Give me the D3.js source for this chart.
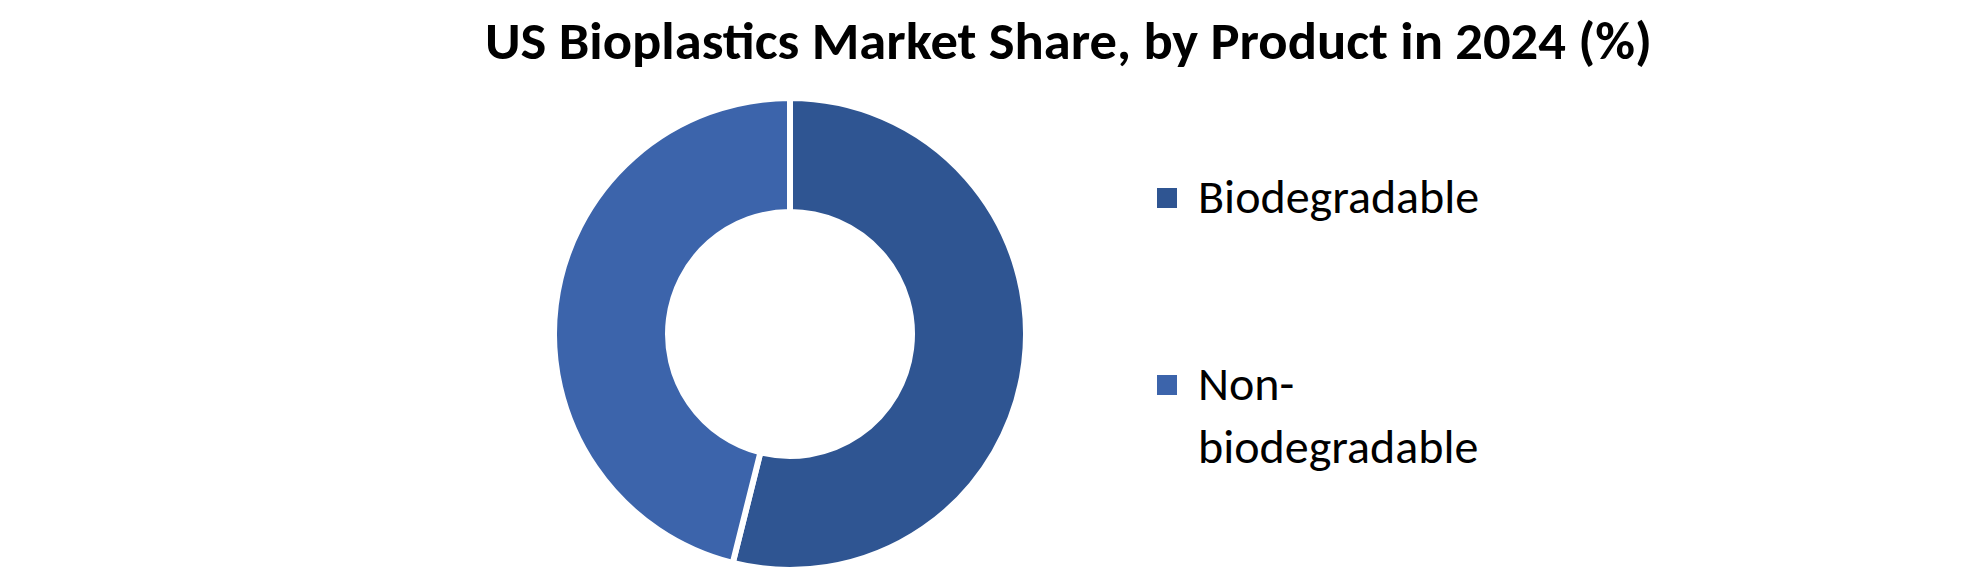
<!DOCTYPE html>
<html>
<head>
<meta charset="utf-8">
<script src="https://cdn.jsdelivr.net/npm/d3@7"></script>
<style>
  body { margin: 0; background: #fff; }
  svg { display: block; }
</style>
</head>
<body>
<div id="chart"></div>
<script>
// Chart data
var categories = ["Biodegradable", "Non-biodegradable"];
var legendLines = [["Biodegradable"], ["Non-", "biodegradable"]];
var shares = [53.9, 46.1];
var colors = ["#2f5592", "#3c64ab"];
var title = "US Bioplastics Market Share, by Product in 2024 (%)";

// SVG area
var svgWidth = 1980;
var svgHeight = 572;

var svg = d3.select("#chart")
  .append("svg")
  .attr("width", svgWidth)
  .attr("height", svgHeight);

// Title, stretched to the reference width
svg.append("text")
  .attr("x", 485)
  .attr("y", 59)
  .attr("font-family", "Carlito, Calibri, 'Open Sans', sans-serif")
  .attr("font-weight", "bold")
  .attr("font-size", 53)
  .attr("fill", "#000")
  .attr("textLength", 1167)
  .attr("lengthAdjust", "spacingAndGlyphs")
  .text(title);

// Donut
var cx = 790, cy = 334;
var pie = d3.pie().sort(null).value(d => d.value);
var arc = d3.arc().innerRadius(122).outerRadius(236);

var data = categories.map((c, i) => ({ name: c, value: shares[i] }));

var donut = svg.append("g")
  .attr("transform", `translate(${cx}, ${cy})`);

donut.selectAll("path")
  .data(pie(data))
  .enter()
  .append("path")
  .attr("d", arc)
  .attr("fill", (d, i) => colors[i])
  .attr("stroke", "#fff")
  .attr("stroke-width", 6)
  .attr("stroke-linejoin", "miter");

// Legend
var legendY = d3.scalePoint().domain(categories).range([213, 400]);

var legend = svg.append("g");

var items = legend.selectAll("g")
  .data(categories)
  .enter()
  .append("g")
  .attr("transform", d => `translate(1157, ${legendY(d)})`);

items.append("rect")
  .attr("x", 0)
  .attr("y", -25)
  .attr("width", 20)
  .attr("height", 20)
  .attr("fill", (d, i) => colors[i]);

items.append("text")
  .attr("font-family", "Carlito, Calibri, 'Open Sans', sans-serif")
  .attr("font-size", 48)
  .attr("fill", "#000")
  .selectAll("tspan")
  .data((d, i) => legendLines[i])
  .enter()
  .append("tspan")
  .attr("x", 41)
  .attr("y", (d, j) => j * 63)
  .text(d => d);
</script>
</body>
</html>
